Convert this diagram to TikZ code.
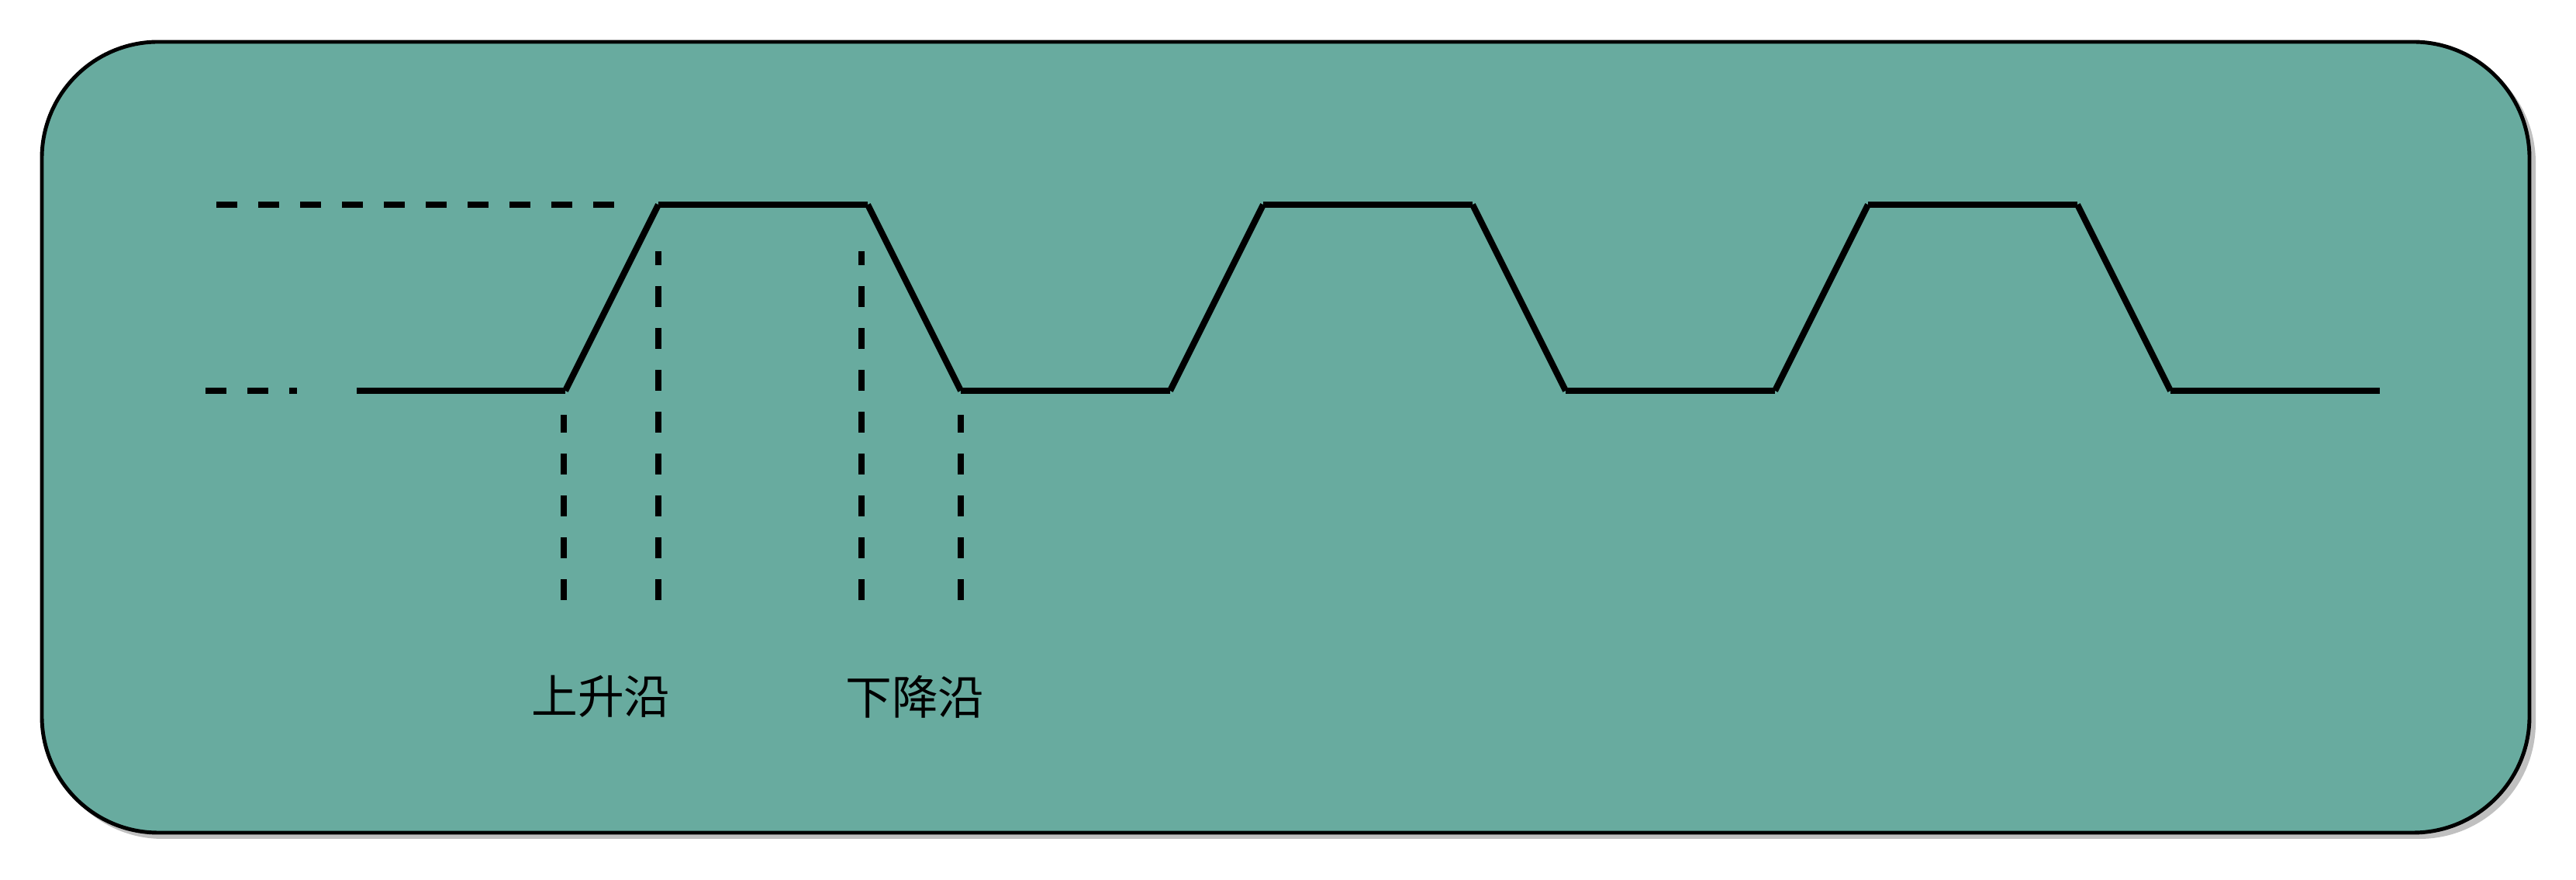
\documentclass[tikz,border=0pt]{standalone}
\usepackage{fontspec}
\newfontfamily\cjk{Noto Sans CJK SC}
\definecolor{panelteal}{RGB}{104,171,159}
\definecolor{shadowgray}{RGB}{192,192,192}
\tikzset{
  wave/.style={line width=2.3pt},
  guide/.style={line width=2.3pt, dash pattern=on 0.27cm off 0.27cm},
  label/.style={font=\cjk\fontsize{17pt}{20pt}\selectfont}
}
\begin{document}
\begin{tikzpicture}
      \useasboundingbox (0,0) rectangle (33.22,11.35);
      \fill[shadowgray, rounded corners=1.5cm] (0.60,0.53) rectangle (32.70,10.75);
      \draw[line width=1.4pt, fill=panelteal, rounded corners=1.5cm] (0.54,0.61) rectangle (32.62,10.81);
      \draw
        (4.60,6.31) coordinate (l0)
        (7.29,6.31) coordinate (r1a) (8.49,8.71) coordinate (r1b)
        (11.19,8.71) coordinate (f1a) (12.39,6.31) coordinate (f1b)
        (15.09,6.31) coordinate (r2a) (16.29,8.71) coordinate (r2b)
        (18.99,8.71) coordinate (f2a) (20.19,6.31) coordinate (f2b)
        (22.89,6.31) coordinate (r3a) (24.09,8.71) coordinate (r3b)
        (26.79,8.71) coordinate (f3a) (27.99,6.31) coordinate (f3b)
        (30.69,6.31) coordinate (l4)
        (2.79,8.71) coordinate (hs) (7.93,8.71) coordinate (he)
        (2.65,6.31) coordinate (ls) (3.83,6.31) coordinate (le)
        (7.27,3.61) coordinate (v1a) (7.27,6.00) coordinate (v1b)
        (8.49,3.61) coordinate (v2a) (8.49,8.11) coordinate (v2b)
        (11.11,3.61) coordinate (v3a) (11.11,8.11) coordinate (v3b)
        (12.39,3.61) coordinate (v4a) (12.39,6.00) coordinate (v4b);
      \begin{scope}[wave]
        \draw (l0) to (r1a);
        \draw (r1a) to (r1b);
        \draw (r1b) to (f1a);
        \draw (f1a) to (f1b);
        \draw (f1b) to (r2a);
        \draw (r2a) to (r2b);
        \draw (r2b) to (f2a);
        \draw (f2a) to (f2b);
        \draw (f2b) to (r3a);
        \draw (r3a) to (r3b);
        \draw (r3b) to (f3a);
        \draw (f3a) to (f3b);
        \draw (f3b) to (l4);
      \end{scope}
      \begin{scope}[guide]
        \draw (hs) to (he);
        \draw (ls) to (le);
        \draw (v1a) to (v1b);
        \draw (v2a) to (v2b);
        \draw (v3a) to (v3b);
        \draw (v4a) to (v4b);
      \end{scope}
      \node[label] (rise) at (7.75,2.37) {上升沿};
      \node[label] (fall) at (11.80,2.36) {下降沿};
    \end{tikzpicture}
\end{document}
